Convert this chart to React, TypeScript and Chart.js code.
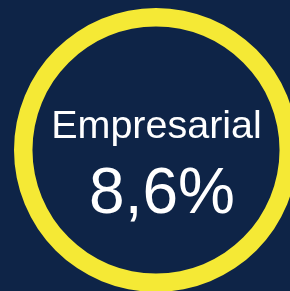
import React, { useEffect, useRef } from "react";
import { Chart, registerables } from "chart.js";

Chart.register(...registerables);

const categories = ["Empresarial"];
const values = [8.6];
const ringValue = [100];
const valueLabels = ["8,6%"];

const BG = "#0e2447";
const YELLOW = "#f5e935";

export default function App() {
  const ref = useRef<HTMLCanvasElement | null>(null);
  useEffect(() => {
    document.body.style.margin = "0";
    const canvas = ref.current!;
    const textPlugin = {
      id: "centerText",
      afterDraw(chart: any) {
        const ctx = chart.ctx;
        ctx.save();
        ctx.fillStyle = "#ffffff";
        ctx.textAlign = "center";
        ctx.textBaseline = "alphabetic";
        ctx.font = '39.5px "Liberation Sans", Arial, sans-serif';
        ctx.fillText(categories[0], 156.5, 138);
        ctx.font = '64px "Liberation Sans", Arial, sans-serif';
        ctx.fillText(valueLabels[0] ?? String(values[0]), 162, 213);
        ctx.restore();
      },
    };
    const chart = new Chart(canvas, {
      type: "doughnut",
      data: {
        labels: categories,
        datasets: [
          {
            data: ringValue,
            backgroundColor: [YELLOW],
            borderWidth: 0,
          },
        ],
      },
      options: {
        animation: false,
        responsive: false,
        maintainAspectRatio: false,
        cutout: "87%",
        layout: { padding: { left: 14, top: 8, right: 14, bottom: 8 } },
        plugins: {
          legend: { display: false },
          tooltip: { enabled: false },
        },
      },
      plugins: [textPlugin],
    });
    return () => chart.destroy();
  }, []);
  return (
    <div
      style={{
        width: 290,
        height: 291,
        overflow: "hidden",
        position: "relative",
        background: BG,
      }}
    >
      <canvas
        ref={ref}
        width={312}
        height={300}
        style={{ position: "absolute", left: 0, top: 0, width: 312, height: 300 }}
      />
    </div>
  );
}
